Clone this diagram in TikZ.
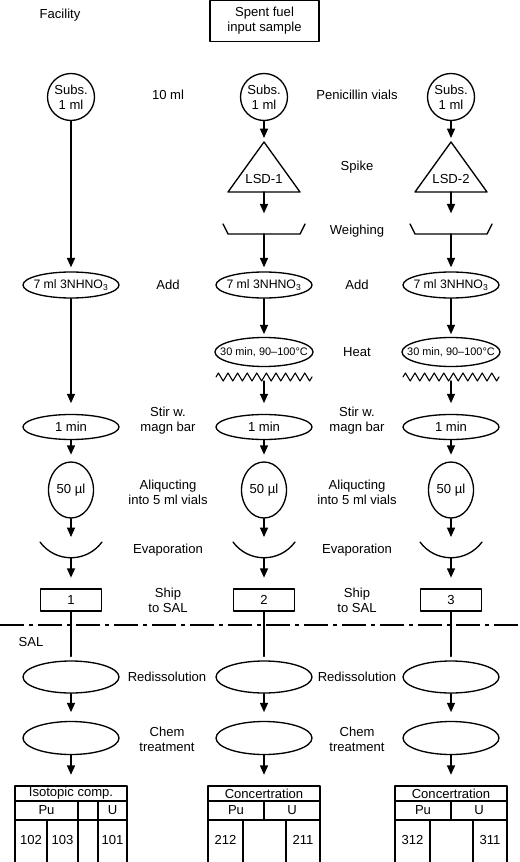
\documentclass[tikz,border=0pt]{standalone}
\usepackage{fontspec}
\setmainfont{Liberation Sans}
\usepackage{tikz}
\usetikzlibrary{arrows.meta}
\usetikzlibrary{shapes.geometric}
\usetikzlibrary{decorations.pathmorphing}
\newcommand{\nowidth}[1]{\makebox[0pt]{#1}}
\tikzstyle{every node}=[font=\fontsize{9.8}{11.3}\selectfont]
\tikzstyle{oval}=[draw,ellipse,inner sep=0pt,minimum width=72pt,minimum height=19.5pt]
\tikzstyle{vial}=[draw,circle,inner sep=0pt,minimum size=35.25pt,align=center]
\tikzstyle{tag}=[draw,rectangle,inner sep=0pt,minimum width=45.75pt,minimum height=16.5pt]
\tikzstyle{cell}=[draw,rectangle,inner sep=0pt,line width=0.8pt,minimum height=14.25pt]
\tikzstyle{flow}=[->,shorten >=3pt]
\tikzstyle{flowgap}=[->,shorten >=8pt]

\begin{document}
\begin{tikzpicture}[line cap=round,line join=round,>={Triangle[length=7pt,width=6pt]},x=0.75pt,y=-0.75pt,line width=1pt]
            \useasboundingbox (0,0) rectangle (520,862);
            % facility part
            \node (fac) at (60,15) {Facility};
            \node[draw,rectangle,align=center,line width=0.8pt,minimum width=81.75pt,minimum height=30.75pt] (input) at (264.5,21) {Spent fuel\\input sample};

            \node[vial] (sub1) at (71,97) {Subs.\\1 ml};
            \node[vial] (sub2) at (264,97) {Subs.\\1 ml};
            \node[vial] (sub3) at (451,97) {Subs.\\1 ml};
            \node (l10) at (168,95) {10 ml};
            \node (lpen) at (357,95) {Penicillin vials};

            % spike and weighing
            \draw (228,192) -- (264,142) -- (300,192) -- cycle;
            \draw (415,192) -- (451,142) -- (487,192) -- cycle;
            \coordinate (top2) at (264,142);
            \coordinate (top3) at (451,142);
            \coordinate (bot2) at (264,192);
            \coordinate (bot3) at (451,192);
            \node (lsd2) at (264,179) {LSD-1};
            \node (lsd3) at (451,179) {LSD-2};
            \node (lspike) at (357,167) {Spike};
            \draw (223,224) -- (228,234) -- (300,234) -- (305,224);
            \draw (410,224) -- (415,234) -- (487,234) -- (492,224);
            \coordinate (wtop2) at (264,224);
            \coordinate (wtop3) at (451,224);
            \coordinate (wbot2) at (264,234);
            \coordinate (wbot3) at (451,234);
            \node (lweigh) at (357,231) {Weighing};

            % acid
            \node[oval,font=\fontsize{9.2}{11}\selectfont] (acid1) at (71,285) {\nowidth{7 ml 3NHNO\textsubscript{3}}};
            \node[oval,font=\fontsize{9.2}{11}\selectfont] (acid2) at (264,285) {\nowidth{7 ml 3NHNO\textsubscript{3}}};
            \node[oval,font=\fontsize{9.2}{11}\selectfont] (acid3) at (451,285) {\nowidth{7 ml 3NHNO\textsubscript{3}}};
            \node (ladd1) at (168,285) {Add};
            \node (ladd2) at (357,285) {Add};

            % heat
            \node[oval,font=\fontsize{8.2}{10}\selectfont,minimum width=73.5pt,minimum height=21.75pt] (heat2) at (264,352) {\nowidth{30 min, 90--100°C}};
            \node[oval,font=\fontsize{8.2}{10}\selectfont,minimum width=73.5pt,minimum height=21.75pt] (heat3) at (451,352) {\nowidth{30 min, 90--100°C}};
            \node (lheat) at (357,352) {Heat};
            \draw[line width=0.8pt,decorate,decoration={zigzag,segment length=7.2pt,amplitude=3pt}] (216,377) -- (312,377);
            \draw[line width=0.8pt,decorate,decoration={zigzag,segment length=7.2pt,amplitude=3pt}] (403,377) -- (499,377);
            \coordinate (zz2) at (264,381);
            \coordinate (zz3) at (451,381);

            % stir and aliquot
            \node[oval,minimum height=18.75pt] (stir1) at (71,427) {1 min};
            \node[oval,minimum height=18.75pt] (stir2) at (264,427) {1 min};
            \node[oval,minimum height=18.75pt] (stir3) at (451,427) {1 min};
            \node[align=center] (lstir1) at (168,421) {Stir w.\\magn bar};
            \node[align=center] (lstir2) at (357,421) {Stir w.\\magn bar};
            \node[draw,ellipse,inner sep=0pt,minimum width=33.75pt,minimum height=42pt] (ali1) at (71,490) {50 µl};
            \node[draw,ellipse,inner sep=0pt,minimum width=33.75pt,minimum height=42pt] (ali2) at (264,490) {50 µl};
            \node[draw,ellipse,inner sep=0pt,minimum width=33.75pt,minimum height=42pt] (ali3) at (451,490) {50 µl};
            \node[align=center] (lali1) at (168,492) {Aliqucting\\into 5 ml vials};
            \node[align=center] (lali2) at (357,492) {Aliqucting\\into 5 ml vials};

            % evaporation and shipping
            \draw (40,542) .. controls (55.5,563) and (86.5,563) .. (102,542);
            \draw (233,542) .. controls (248.5,563) and (279.5,563) .. (295,542);
            \draw (420,542) .. controls (435.5,563) and (466.5,563) .. (482,542);
            \coordinate (evt1) at (71,543);
            \coordinate (evt2) at (264,543);
            \coordinate (evt3) at (451,543);
            \coordinate (evb1) at (71,558);
            \coordinate (evb2) at (264,558);
            \coordinate (evb3) at (451,558);
            \node (levap1) at (168,550) {Evaporation};
            \node (levap2) at (357,550) {Evaporation};
            \node[tag] (ship1) at (71,600) {1};
            \node[tag] (ship2) at (264,600) {2};
            \node[tag] (ship3) at (451,600) {3};
            \node[align=center] (lship1) at (168,600) {Ship\\to SAL};
            \node[align=center] (lship2) at (357,600) {Ship\\to SAL};

            \draw[line width=2.2pt,line cap=butt,dash pattern=on 18pt off 4pt on 2.5pt off 4pt] (0,625) -- (520,625);

            % SAL part
            \node (sal) at (31,642) {SAL};
            \node[oval,minimum height=24pt] (redis1) at (71,677) {};
            \node[oval,minimum height=24pt] (redis2) at (264,677) {};
            \node[oval,minimum height=24pt] (redis3) at (451,677) {};
            \node (lredis1) at (167,677) {Redissolution};
            \node (lredis2) at (357,677) {Redissolution};
            \node[oval,minimum height=24.75pt] (chem1) at (71,738) {};
            \node[oval,minimum height=24.75pt] (chem2) at (264,738) {};
            \node[oval,minimum height=24.75pt] (chem3) at (451,738) {};
            \node[align=center] (lchem1) at (167,739) {Chem\\treatment};
            \node[align=center] (lchem2) at (357,739) {Chem\\treatment};

            % tables
            \node[cell,minimum width=84pt,minimum height=11.25pt] (iso1) at (71,793.5) {Isotopic comp.};
            \node[cell,minimum width=47.25pt] (pu1) at (46.5,810.5) {Pu};
            \node[cell,minimum width=15pt] (none1) at (88,810.5) {};
            \node[cell,minimum width=21.75pt] (u1) at (112.5,810.5) {U};
            \draw[line width=0.8pt] (15,820) -- (15,862) (47,820) -- (47,862) (78,820) -- (78,862) (98,820) -- (98,862) (127,820) -- (127,862);
            \node (n102) at (31,840) {102};
            \node (n103) at (62.5,840) {103};
            \node (n101) at (112.5,840) {101};

            \node[cell,minimum width=84pt,minimum height=11.25pt] (conc2) at (264,793.5) {Concertration};
            \node[cell,minimum width=42pt] (pu2) at (236,810.5) {Pu};
            \node[cell,minimum width=42pt] (u2) at (292,810.5) {U};
            \draw[line width=0.8pt] (208,820) -- (208,862) (243,820) -- (243,862) (286,820) -- (286,862) (320,820) -- (320,862);
            \node (n212) at (225.5,840) {212};
            \node (n211) at (303,840) {211};

            \node[cell,minimum width=84pt,minimum height=11.25pt] (conc3) at (451,793.5) {Concertration};
            \node[cell,minimum width=42pt] (pu3) at (423,810.5) {Pu};
            \node[cell,minimum width=42pt] (u3) at (479,810.5) {U};
            \draw[line width=0.8pt] (395,820) -- (395,862) (430,820) -- (430,862) (473,820) -- (473,862) (507,820) -- (507,862);
            \node (n312) at (412.5,840) {312};
            \node (n311) at (490,840) {311};

            % connectors
            \draw[flow] (sub1) -- (acid1);
            \draw[flowgap] (acid1) -- (stir1);
            \draw[flow] (sub2) -- (top2);
            \draw[flow] (sub3) -- (top3);
            \draw[flowgap] (bot2) -- (wtop2);
            \draw[flowgap] (bot3) -- (wtop3);
            \draw[flow] (wbot2) -- (acid2);
            \draw[flow] (wbot3) -- (acid3);
            \draw[flow,shorten >=2pt] (acid2) -- (heat2);
            \draw[flow,shorten >=2pt] (acid3) -- (heat3);
            \draw[flowgap] (zz2) -- (stir2);
            \draw[flowgap] (zz3) -- (stir3);
            \draw[flow,shorten >=5pt] (stir1) -- (ali1);
            \draw[flow,shorten >=5pt] (stir2) -- (ali2);
            \draw[flow,shorten >=5pt] (stir3) -- (ali3);
            \draw[flow,shorten >=4.5pt] (ali1) -- (evt1);
            \draw[flow,shorten >=4.5pt] (ali2) -- (evt2);
            \draw[flow,shorten >=4.5pt] (ali3) -- (evt3);
            \draw[flowgap] (evb1) -- (ship1);
            \draw[flowgap] (evb2) -- (ship2);
            \draw[flowgap] (evb3) -- (ship3);
            \draw[shorten >=3pt] (ship1) -- (redis1);
            \draw[shorten >=3pt] (ship2) -- (redis2);
            \draw[shorten >=3pt] (ship3) -- (redis3);
            \draw[flow,shorten >=6.5pt] (redis1) -- (chem1);
            \draw[flow,shorten >=6.5pt] (redis2) -- (chem2);
            \draw[flow,shorten >=6.5pt] (redis3) -- (chem3);
            \draw[flowgap] (chem1) -- (iso1);
            \draw[flowgap] (chem2) -- (conc2);
            \draw[flowgap] (chem3) -- (conc3);
\end{tikzpicture}
\end{document}
